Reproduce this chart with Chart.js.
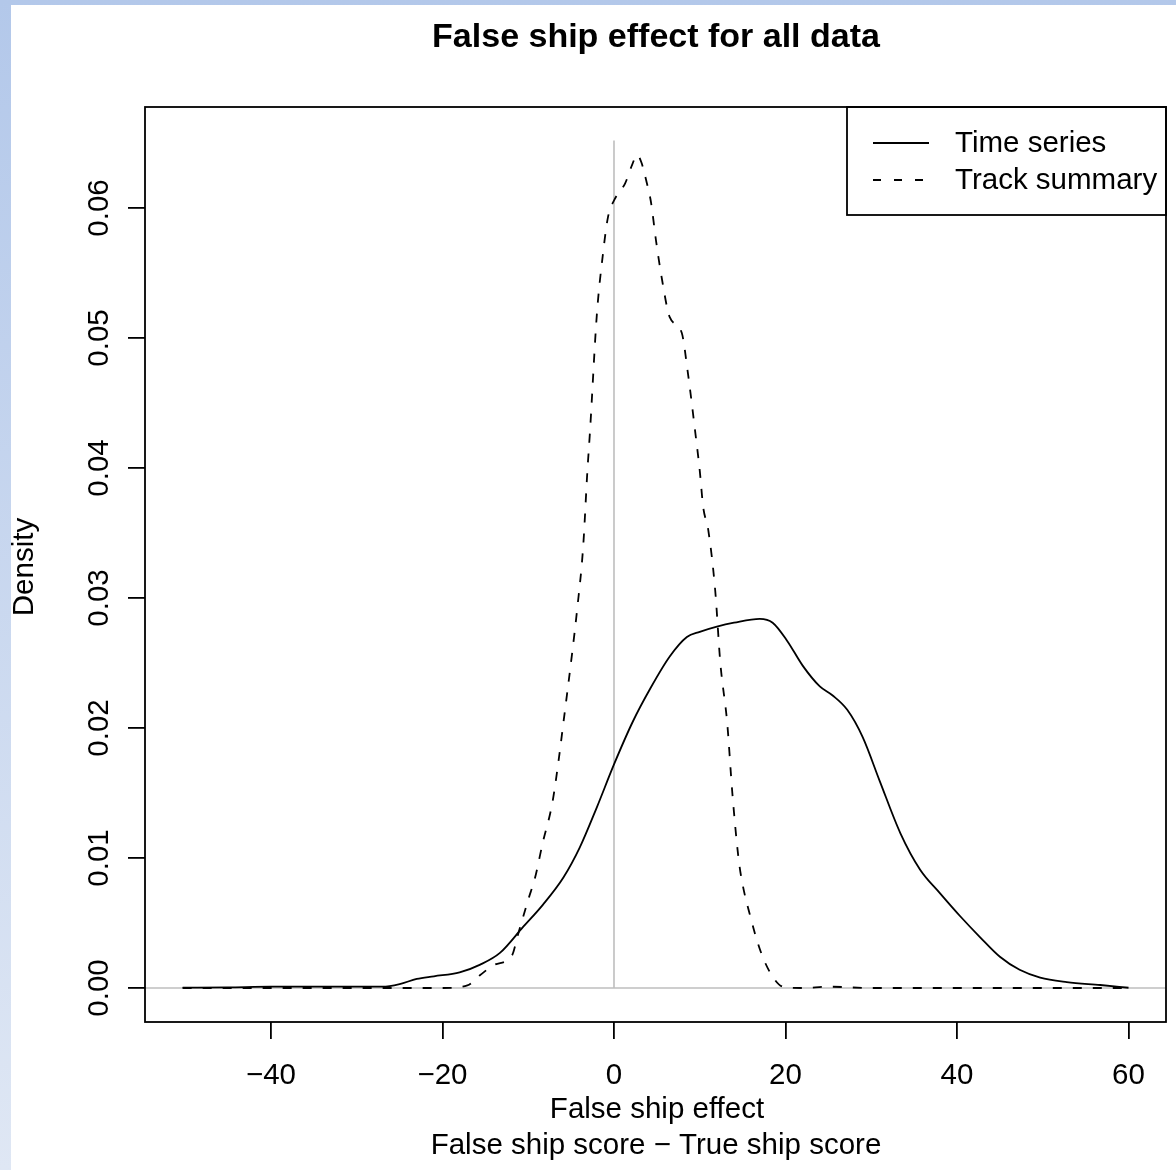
<!DOCTYPE html>
<html>
<head>
<meta charset="utf-8">
<script src="https://cdn.jsdelivr.net/npm/chart.js@4"></script>
<style>
  html, body { margin: 0; padding: 0; }
  #frame {
    position: relative; width: 1176px; height: 1170px; overflow: hidden;
    background: linear-gradient(to bottom, #b3c8ea, #dfe7f4);
  }
  #paper { position: absolute; left: 11px; top: 5px; right: 0; bottom: 0; background: #fff; }
  #grafico { position: absolute; left: 0; top: 0; }
</style>
</head>
<body>
<div id="frame">
  <div id="paper"></div>
  <canvas id="grafico" width="1176" height="1170"></canvas>
</div>
<script>
// Densidades
const xTempo = [-50.3, -45, -40, -35, -30, -27, -25, -23, -21, -18, -15.6, -13.3, -10.6, -8.3, -5.9, -4, -2, 0, 2.2, 4.2, 6.5, 8.5, 10, 12, 14, 17, 18.5, 20.2, 22, 24, 25.5, 27.2, 29, 31, 33.4, 35.7, 38, 40.4, 42.7, 45, 47.3, 49.7, 52.8, 56.7, 60];
const yTempo = [0.00003, 0.00005, 0.0001, 0.0001, 0.0001, 0.0001, 0.0003, 0.0007, 0.0009, 0.0012, 0.0018, 0.0027, 0.0047, 0.0064, 0.0085, 0.0108, 0.0139, 0.0172, 0.0205, 0.023, 0.0255, 0.027, 0.0274, 0.0278, 0.0281, 0.0284, 0.0281, 0.0267, 0.0248, 0.0232, 0.0225, 0.0214, 0.0193, 0.0159, 0.0119, 0.0091, 0.0073, 0.0055, 0.0039, 0.0024, 0.0014, 0.0008, 0.00046, 0.00023, 0.00002];

const xTrilha = [-50.3, -40, -30, -20, -17.1, -15.6, -13.9, -11.9, -11.2, -10, -9.2, -8.3, -7.2, -6.5, -5.9, -4.8, -4.3, -3.6, -3.1, -2.8, -2.0, -1.3, -0.7, 0.1, 1.3, 2.1, 2.7, 3.2, 3.8, 4.3, 4.9, 5.6, 6.5, 7.9, 8.6, 9.45, 10.0, 10.4, 11.0, 11.8, 12.4, 13.2, 13.8, 14.5, 14.9, 15.9, 17, 18.2, 19.7, 22, 25, 30, 40, 50, 60];
const yTrilha = [0, 0, 0, 0, 0.0002, 0.001, 0.0018, 0.0025, 0.0041, 0.0068, 0.0085, 0.0112, 0.0142, 0.0173, 0.0204, 0.0262, 0.0291, 0.0339, 0.0398, 0.0428, 0.0518, 0.0564, 0.0593, 0.0607, 0.0619, 0.0633, 0.0641, 0.0635, 0.062, 0.0605, 0.0575, 0.0545, 0.0516, 0.0504, 0.0474, 0.0429, 0.0398, 0.037, 0.0352, 0.0306, 0.025, 0.0204, 0.015, 0.0101, 0.0083, 0.0055, 0.003, 0.0012, 0.0001, 0, 0.0001, 0, 0, 0, 0];

const ticksX = [-40, -20, 0, 20, 40, 60];
const ticksY = [0, 0.01, 0.02, 0.03, 0.04, 0.05, 0.06];
const legendas = ['Time series', 'Track summary'];

const FONTE = '"Liberation Sans", Arial, sans-serif';
const TAM = 29.5;
const pontos = (xs, ys) => xs.map((x, i) => ({ x, y: ys[i] }));

// desenha título, caixa, legenda e rótulos no estilo do R
const decoracao = {
  id: 'decoracao',
  beforeDatasetsDraw(chart) {
    const { ctx, chartArea: a, scales: { x, y } } = chart;
    ctx.save();
    ctx.strokeStyle = '#bebebe';
    ctx.lineWidth = 1.6;
    ctx.beginPath();
    ctx.moveTo(a.left, y.getPixelForValue(0));
    ctx.lineTo(a.right, y.getPixelForValue(0));
    ctx.moveTo(x.getPixelForValue(0), y.getPixelForValue(0));
    ctx.lineTo(x.getPixelForValue(0), y.getPixelForValue(0.0652));
    ctx.stroke();
    ctx.restore();
  },
  afterDraw(chart) {
    const { ctx, chartArea: a, scales: { y } } = chart;
    ctx.save();
    ctx.strokeStyle = '#000';
    ctx.lineWidth = 1.8;
    ctx.strokeRect(a.left, a.top, a.right - a.left, a.bottom - a.top);

    ctx.fillStyle = '#000';
    ctx.textAlign = 'center';
    ctx.textBaseline = 'middle';

    // título
    ctx.font = 'bold 34px ' + FONTE;
    ctx.fillText('False ship effect for all data', 656, 38);

    // títulos dos eixos
    ctx.font = TAM + 'px ' + FONTE;
    ctx.fillText('False ship effect', 657, 1110);
    ctx.fillText('False ship score \u2212 True ship score', 656, 1146);

    ctx.save();
    ctx.translate(25, 567);
    ctx.rotate(-Math.PI / 2);
    ctx.fillText('Density', 0, 0);
    ctx.restore();

    // rótulos do eixo y (verticais)
    ticksY.forEach(v => {
      ctx.save();
      ctx.translate(100, y.getPixelForValue(v));
      ctx.rotate(-Math.PI / 2);
      ctx.fillText(v.toFixed(2), 0, 0);
      ctx.restore();
    });

    // legenda
    const lx = 847, ly = a.top, lw = a.right - 847, lh = 108;
    ctx.lineWidth = 1.8;
    ctx.strokeRect(lx, ly, lw, lh);
    ctx.textAlign = 'left';
    legendas.forEach((txt, i) => {
      const yy = 143 + i * 37;
      ctx.beginPath();
      ctx.setLineDash(i === 0 ? [] : [8, 13]);
      ctx.moveTo(873, yy);
      ctx.lineTo(929, yy);
      ctx.stroke();
      ctx.setLineDash([]);
      ctx.fillText(txt, 955, yy + 1);
    });
    ctx.restore();
  }
};

Chart.defaults.font.family = FONTE;
Chart.defaults.color = '#000';

new Chart(document.getElementById('grafico').getContext('2d'), {
  type: 'line',
  data: {
    datasets: [
      {
        label: legendas[0],
        data: pontos(xTempo, yTempo),
        borderColor: '#000',
        borderWidth: 1.8,
        pointRadius: 0,
        cubicInterpolationMode: 'monotone',
        fill: false
      },
      {
        label: legendas[1],
        data: pontos(xTrilha, yTrilha),
        borderColor: '#000',
        borderWidth: 1.8,
        borderDash: [9, 11],
        pointRadius: 0,
        cubicInterpolationMode: 'monotone',
        fill: false
      }
    ]
  },
  options: {
    responsive: false,
    animation: false,
    layout: { padding: { top: 107, right: 10, left: 0, bottom: 0 } },
    plugins: { legend: { display: false }, tooltip: { enabled: false } },
    scales: {
      x: {
        type: 'linear',
        min: -54.69,
        max: 64.37,
        afterFit: s => { s.height = 148; },
        afterBuildTicks: s => { s.ticks = ticksX.map(v => ({ value: v })); },
        border: { display: false },
        grid: { drawOnChartArea: false, drawTicks: true, tickLength: 17, color: '#000', lineWidth: 1.8 },
        ticks: {
          padding: 19,
          font: { size: TAM },
          color: '#000',
          maxRotation: 0,
          callback: v => v < 0 ? '\u2212' + Math.abs(v) : String(v)
        }
      },
      y: {
        type: 'linear',
        min: -0.002615,
        max: 0.06777,
        afterFit: s => { s.width = 145; },
        afterBuildTicks: s => { s.ticks = ticksY.map(v => ({ value: v })); },
        border: { display: false },
        grid: { drawOnChartArea: false, drawTicks: true, tickLength: 17, color: '#000', lineWidth: 1.8 },
        ticks: { display: false }
      }
    }
  },
  plugins: [decoracao]
});
</script>
</body>
</html>
